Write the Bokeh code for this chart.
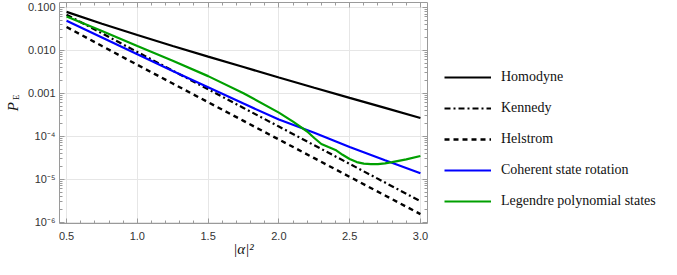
import numpy as np
from bokeh.plotting import figure
from bokeh.layouts import row
from bokeh.models import (Range1d, FixedTicker, LinearAxis, LogAxis, Legend, LegendItem,
                          CustomJSTickFormatter, Label)
from bokeh.embed import file_html
from bokeh.resources import INLINE

# ---- data ----
x_vals = [0.5, 0.75, 1.0, 1.25, 1.5, 1.75, 2.0, 2.25, 2.5, 2.75, 3.0]
homodyne = [0.0786, 0.0416, 0.02275, 0.01267, 0.00715, 0.00408, 0.00234, 0.00135, 7.83e-4, 4.57e-4, 2.66e-4]
kennedy = [0.0677, 0.0249, 0.00916, 0.00337, 0.00124, 4.56e-4, 1.68e-4, 6.17e-5, 2.27e-5, 8.35e-6, 3.07e-6]
helstrom = [0.0350, 0.01261, 0.00460, 0.001687, 6.20e-4, 2.28e-4, 8.39e-5, 3.085e-5, 1.135e-5, 4.18e-6, 1.536e-6]
coherent_rotation = [0.049, 0.020, 8.1e-3, 3.3e-3, 1.38e-3, 5.75e-4, 2.45e-4, 1.2e-4, 5.6e-5, 2.75e-5, 1.38e-5]
x_legendre = [0.5, 0.75, 1.0, 1.25, 1.5, 1.75, 2.0, 2.1, 2.2, 2.25, 2.3, 2.35, 2.4, 2.45,
              2.5, 2.55, 2.6, 2.65, 2.7, 2.75, 2.8, 2.9, 3.0]
legendre = [0.0617, 0.0282, 0.0126, 0.00575, 0.00251, 0.00100, 3.55e-4, 2.19e-4, 1.29e-4, 9.1e-5,
            6.6e-5, 5.6e-5, 4.8e-5, 3.7e-5, 2.95e-5, 2.5e-5, 2.3e-5, 2.24e-5, 2.24e-5, 2.34e-5,
            2.5e-5, 2.9e-5, 3.47e-5]

series_names = ["Homodyne", "Kennedy", "Helstrom", "Coherent state rotation", "Legendre polynomial states"]

x_tick_values = [0.5, 1.0, 1.5, 2.0, 2.5, 3.0]
x_tick_labels = ["0.5", "1.0", "1.5", "2.0", "2.5", "3.0"]
y_tick_values = [1e-6, 1e-5, 1e-4, 1e-3, 1e-2, 1e-1]
y_tick_labels = ["10\u207b\u2076", "10\u207b\u2075", "10\u207b\u2074", "0.001", "0.010", "0.100"]

H = 259
LABEL_W = 22          # strip holding the rotated P_E label
MAIN_W = 408          # plot with axes
LEG_W = 661 - LABEL_W - MAIN_W

STYLES = [dict(line_color="black", line_width=2.2),
          dict(line_color="black", line_width=2.2, line_dash="6 3 2 3"),
          dict(line_color="black", line_width=2.4, line_dash="5 4"),
          dict(line_color="#0000ff", line_width=2.2),
          dict(line_color="#00a000", line_width=2.2)]

# ---- y-axis title strip ----
q0 = figure(width=LABEL_W, height=H, output_backend="svg", toolbar_location=None,
            x_range=Range1d(0, LABEL_W), y_range=Range1d(0, H),
            x_axis_location=None, y_axis_location=None, min_border=0)
q0.outline_line_color = None
q0.xgrid.visible = False
q0.ygrid.visible = False
q0.add_layout(Label(x=12.5, y=H - 122, text="P", angle=np.pi / 2,
                    text_font="Liberation Serif", text_font_style="italic",
                    text_font_size="15px", text_align="center", text_baseline="middle",
                    text_color="#111111"))
q0.add_layout(Label(x=15.5, y=H - 111, text="E", angle=np.pi / 2,
                    text_font="Liberation Serif", text_font_size="9px",
                    text_align="center", text_baseline="middle", text_color="#111111"))

# ---- main plot ----
LEFT, FRAME_W = 59 - LABEL_W, 368
p = figure(width=MAIN_W, height=H, output_backend="svg", toolbar_location=None,
           y_axis_type="log",
           x_range=Range1d(0.45, 3.05), y_range=Range1d(9.3e-7, 0.13),
           min_border_left=LEFT, min_border_right=MAIN_W - LEFT - FRAME_W,
           min_border_top=2, min_border_bottom=34)
p.outline_line_color = None

x_minor = [round(0.4 + 0.1 * i, 2) for i in range(0, 28)]
y_minor = [m * 10.0 ** e for e in range(-7, 0) for m in range(2, 10)]
x_ticker = FixedTicker(ticks=x_tick_values, minor_ticks=x_minor)
y_ticker = FixedTicker(ticks=y_tick_values, minor_ticks=y_minor)

x_fmt = CustomJSTickFormatter(args=dict(vals=x_tick_values, labs=x_tick_labels), code="""
for (let i = 0; i < vals.length; i++) { if (Math.abs(tick - vals[i]) < 1e-9) return labs[i]; }
return '';
""")
y_fmt = CustomJSTickFormatter(args=dict(vals=y_tick_values, labs=y_tick_labels), code="""
for (let i = 0; i < vals.length; i++) { if (Math.abs(Math.log10(tick) - Math.log10(vals[i])) < 1e-6) return labs[i]; }
return '';
""")
blank = CustomJSTickFormatter(code="return '';")

AX = "#9a9a9a"
def style_axis(ax, labels=True):
    ax.axis_line_color = AX
    ax.major_tick_line_color = AX
    ax.minor_tick_line_color = AX
    ax.major_tick_in = 5
    ax.major_tick_out = 0
    ax.minor_tick_in = 3
    ax.minor_tick_out = 0
    ax.major_label_text_font = "Liberation Sans"
    ax.major_label_text_color = "#333333"
    if labels:
        ax.major_label_text_font_size = "11px"
    else:
        ax.major_label_text_font_size = "0px"
        ax.major_label_standoff = 0

xa = p.xaxis[0]
xa.ticker = x_ticker
xa.formatter = x_fmt
style_axis(xa)
xa.major_label_standoff = 8
xa.axis_label = "|\u03b1|\u00b2"
xa.axis_label_text_font = "Liberation Serif"
xa.axis_label_text_font_style = "italic"
xa.axis_label_text_font_size = "15px"
xa.axis_label_text_color = "#111111"
xa.axis_label_standoff = -2

ya = p.yaxis[0]
ya.ticker = y_ticker
ya.formatter = y_fmt
style_axis(ya)
ya.major_label_standoff = 4

top = LinearAxis(ticker=x_ticker, formatter=blank)
style_axis(top, labels=False)
p.add_layout(top, "above")
right = LogAxis(ticker=y_ticker, formatter=blank)
style_axis(right, labels=False)
p.add_layout(right, "right")

p.xgrid.ticker = x_ticker
p.ygrid.ticker = y_ticker
p.xgrid.grid_line_color = "#e6e6e6"
p.ygrid.grid_line_color = "#e6e6e6"

p.line(x_vals, homodyne, **STYLES[0])
p.line(x_vals, kennedy, **STYLES[1])
p.line(x_vals, helstrom, **STYLES[2])
p.line(x_vals, coherent_rotation, **STYLES[3])
p.line(x_legendre, legendre, **STYLES[4])

# ---- legend strip (same series, drawn outside its visible range; only the legend shows) ----
q = figure(width=LEG_W, height=H, output_backend="svg", toolbar_location=None,
           x_range=Range1d(10, 11), y_range=Range1d(10, 11),
           x_axis_location=None, y_axis_location=None, min_border=0)
q.outline_line_color = None
q.xgrid.visible = False
q.ygrid.visible = False
proxies = [q.line(x_vals, homodyne, **STYLES[0]),
           q.line(x_vals, kennedy, **STYLES[1]),
           q.line(x_vals, helstrom, **STYLES[2]),
           q.line(x_vals, coherent_rotation, **STYLES[3]),
           q.line(x_legendre, legendre, **STYLES[4])]
legend = Legend(items=[LegendItem(label=n, renderers=[r]) for n, r in zip(series_names, proxies)],
                location=(444 - LABEL_W - MAIN_W, 12))
legend.border_line_color = None
legend.background_fill_alpha = 0
legend.padding = 0
legend.margin = 0
legend.spacing = 11
legend.glyph_width = 47
legend.glyph_height = 20
legend.label_height = 20
legend.label_standoff = 10
legend.label_text_font = "Liberation Serif"
legend.label_text_font_size = "14px"
legend.label_text_color = "#111111"
q.add_layout(legend, "center")

layout = row(q0, p, q, spacing=0)
open("out.html", "w").write(file_html(layout, INLINE))
